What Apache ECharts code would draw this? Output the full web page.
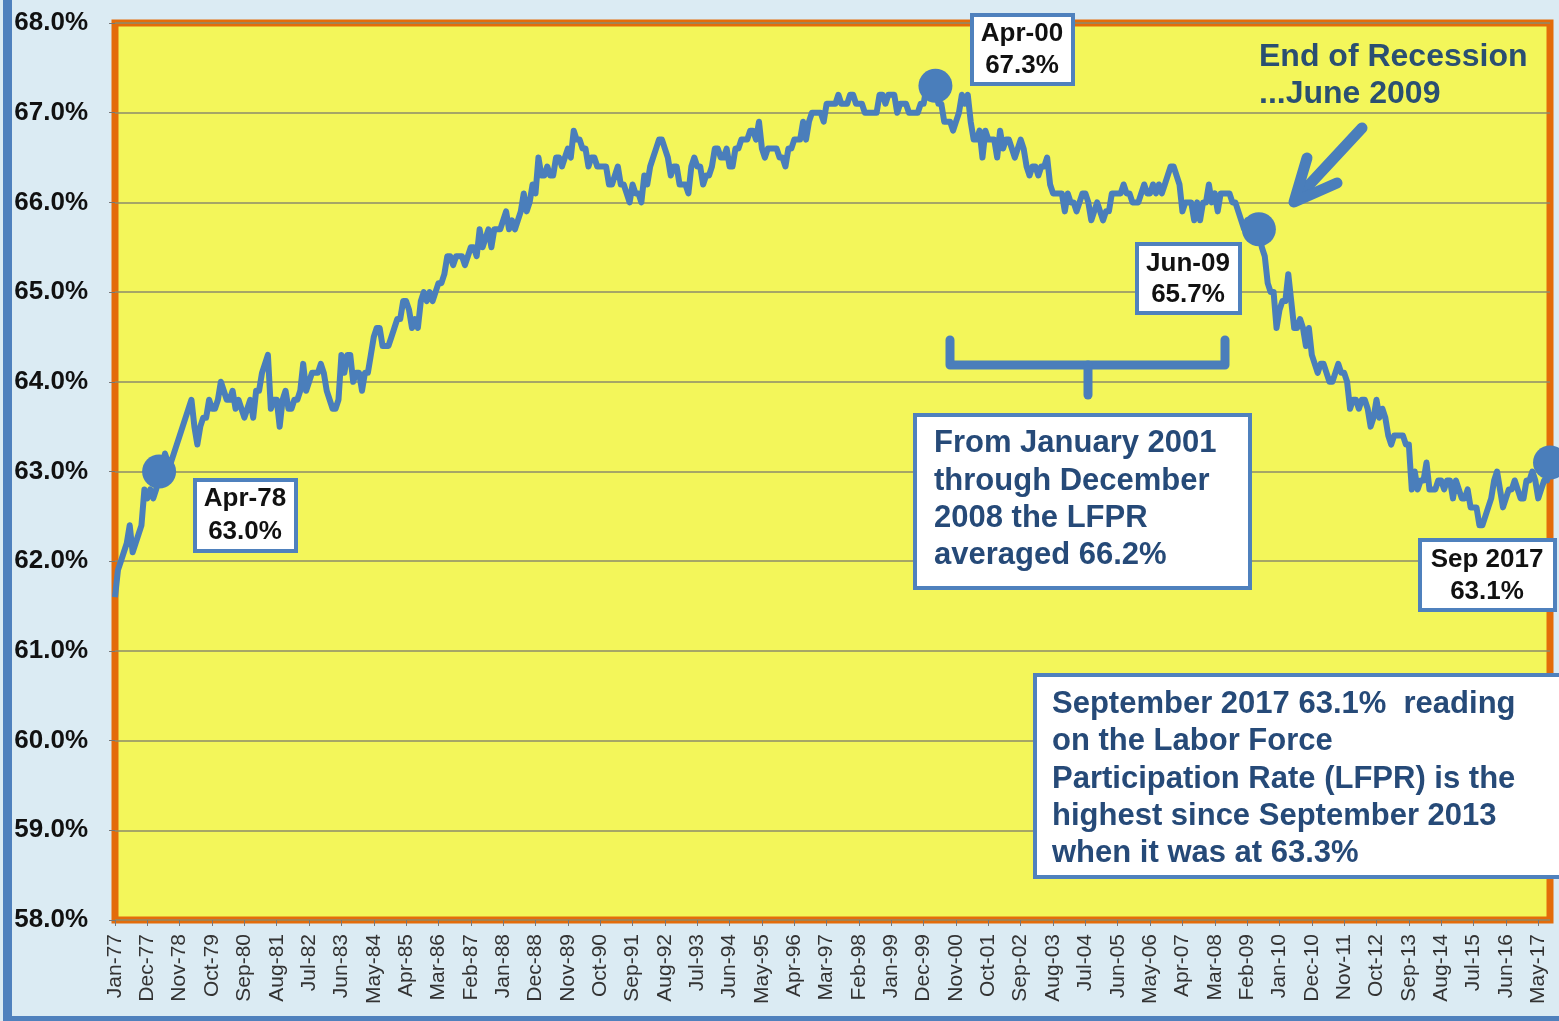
<!DOCTYPE html>
<html>
<head>
<meta charset="utf-8">
<title>Labor Force Participation Rate</title>
<script src="https://cdn.jsdelivr.net/npm/echarts@6/dist/echarts.min.js"></script>
<style>
  html, body { margin: 0; padding: 0; background: #dbebf3; }
  #chart { width: 1559px; height: 1021px; }
</style>
</head>
<body>
<div id="chart"></div>
<script>
// monthly LFPR, one line per year
const rates1977to1986 = [
  61.6, 61.9, 62.0, 62.1, 62.2, 62.4, 62.1, 62.2, 62.3, 62.4, 62.8, 62.7,
  62.8, 62.7, 62.8, 63.0, 63.0, 63.2, 63.1, 63.1, 63.2, 63.3, 63.4, 63.5,
  63.6, 63.7, 63.8, 63.5, 63.3, 63.5, 63.6, 63.6, 63.8, 63.7, 63.7, 63.8,
  64.0, 63.9, 63.8, 63.8, 63.9, 63.7, 63.8, 63.7, 63.6, 63.7, 63.8, 63.6,
  63.9, 63.9, 64.1, 64.2, 64.3, 63.7, 63.8, 63.8, 63.5, 63.8, 63.9, 63.7,
  63.7, 63.8, 63.8, 63.9, 64.2, 63.9, 64.0, 64.1, 64.1, 64.1, 64.2, 64.1,
  63.9, 63.8, 63.7, 63.7, 63.8, 64.3, 64.1, 64.3, 64.3, 64.0, 64.1, 64.1,
  63.9, 64.1, 64.1, 64.3, 64.5, 64.6, 64.6, 64.4, 64.4, 64.4, 64.5, 64.6,
  64.7, 64.7, 64.9, 64.9, 64.8, 64.6, 64.7, 64.6, 64.9, 65.0, 64.9, 65.0,
  64.9, 65.0, 65.1, 65.1, 65.2, 65.4, 65.4, 65.3, 65.4, 65.4, 65.4, 65.3
];
const rates1987to1996 = [
  65.4, 65.5, 65.5, 65.4, 65.7, 65.5, 65.6, 65.7, 65.5, 65.7, 65.7, 65.7,
  65.8, 65.9, 65.7, 65.8, 65.7, 65.8, 65.9, 66.1, 65.9, 66.0, 66.2, 66.1,
  66.5, 66.3, 66.3, 66.4, 66.3, 66.3, 66.5, 66.5, 66.4, 66.5, 66.6, 66.5,
  66.8, 66.7, 66.7, 66.6, 66.6, 66.4, 66.5, 66.5, 66.4, 66.4, 66.4, 66.4,
  66.2, 66.2, 66.3, 66.4, 66.2, 66.2, 66.1, 66.0, 66.2, 66.1, 66.1, 66.0,
  66.3, 66.2, 66.4, 66.5, 66.6, 66.7, 66.7, 66.6, 66.5, 66.3, 66.4, 66.4,
  66.2, 66.2, 66.2, 66.1, 66.4, 66.5, 66.4, 66.4, 66.2, 66.3, 66.3, 66.4,
  66.6, 66.6, 66.5, 66.5, 66.6, 66.4, 66.4, 66.6, 66.6, 66.7, 66.7, 66.7,
  66.8, 66.8, 66.7, 66.9, 66.6, 66.5, 66.6, 66.6, 66.6, 66.6, 66.5, 66.5,
  66.4, 66.6, 66.6, 66.7, 66.7, 66.7, 66.9, 66.7, 66.9, 67.0, 67.0, 67.0
];
const rates1997to2006 = [
  67.0, 66.9, 67.1, 67.1, 67.1, 67.1, 67.2, 67.1, 67.1, 67.1, 67.2, 67.2,
  67.1, 67.1, 67.1, 67.0, 67.0, 67.0, 67.0, 67.0, 67.2, 67.2, 67.1, 67.2,
  67.2, 67.2, 67.0, 67.1, 67.1, 67.1, 67.0, 67.0, 67.0, 67.0, 67.1, 67.1,
  67.3, 67.3, 67.3, 67.3, 67.1, 67.1, 66.9, 66.9, 66.9, 66.8, 66.9, 67.0,
  67.2, 67.1, 67.2, 66.9, 66.7, 66.7, 66.8, 66.5, 66.8, 66.7, 66.7, 66.7,
  66.5, 66.8, 66.6, 66.7, 66.7, 66.6, 66.5, 66.6, 66.7, 66.6, 66.4, 66.3,
  66.4, 66.4, 66.3, 66.4, 66.4, 66.5, 66.2, 66.1, 66.1, 66.1, 66.1, 65.9,
  66.1, 66.0, 66.0, 65.9, 66.0, 66.1, 66.1, 66.0, 65.8, 65.9, 66.0, 65.9,
  65.8, 65.9, 65.9, 66.1, 66.1, 66.1, 66.1, 66.2, 66.1, 66.1, 66.0, 66.0,
  66.0, 66.1, 66.2, 66.1, 66.1, 66.2, 66.1, 66.2, 66.1, 66.2, 66.3, 66.4
];
const rates2007to2017 = [
  66.4, 66.3, 66.2, 65.9, 66.0, 66.0, 66.0, 65.8, 66.0, 65.8, 66.0, 66.0,
  66.2, 66.0, 66.1, 65.9, 66.1, 66.1, 66.1, 66.1, 66.0, 66.0, 65.9, 65.8,
  65.7, 65.8, 65.6, 65.7, 65.7, 65.7, 65.5, 65.4, 65.1, 65.0, 65.0, 64.6,
  64.8, 64.9, 64.9, 65.2, 64.9, 64.6, 64.6, 64.7, 64.6, 64.4, 64.6, 64.3,
  64.2, 64.1, 64.2, 64.2, 64.1, 64.0, 64.0, 64.1, 64.2, 64.1, 64.1, 64.0,
  63.7, 63.8, 63.8, 63.7, 63.8, 63.8, 63.7, 63.5, 63.6, 63.8, 63.6, 63.7,
  63.6, 63.4, 63.3, 63.4, 63.4, 63.4, 63.4, 63.3, 63.3, 62.8, 63.0, 62.8,
  62.9, 62.9, 63.1, 62.8, 62.8, 62.8, 62.9, 62.9, 62.8, 62.9, 62.9, 62.7,
  62.9, 62.8, 62.7, 62.7, 62.8, 62.6, 62.6, 62.6, 62.4, 62.4, 62.5, 62.6,
  62.7, 62.9, 63.0, 62.8, 62.6, 62.7, 62.8, 62.8, 62.9, 62.8, 62.7, 62.7,
  62.9, 62.9, 63.0, 62.9, 62.7, 62.8, 62.9, 62.9, 63.1
];

const monthNames = ["Jan", "Feb", "Mar", "Apr", "May", "Jun", "Jul", "Aug", "Sep", "Oct", "Nov", "Dec"];
const firstYear = 1977;
const highlightMonths = ["Apr-78", "Apr-00", "Jun-09", "Sep-17"];

const rates = [].concat(rates1977to1986, rates1987to1996, rates1997to2006, rates2007to2017);
const months = rates.map((_, i) => {
  const yy = String((firstYear + Math.floor(i / 12)) % 100).padStart(2, "0");
  return `${monthNames[i % 12]}-${yy}`;
});

const lineBlue = "#4a7ebb";
const boxBlue = "#4f81bd";
const textNavy = "#264a78";
const font = '"Liberation Sans", Arial, sans-serif';

function textLine(text, x, y, size, color, align) {
  return {
    type: "text",
    z: 110,
    style: {
      text,
      x,
      y,
      font: `bold ${size}px ${font}`,
      fill: color,
      align: align || "center",
      verticalAlign: "middle",
      textAlign: align || "center",
      textVerticalAlign: "middle"
    }
  };
}

function box(x, y, w, h) {
  return {
    type: "rect",
    z: 105,
    shape: { x, y, width: w, height: h },
    style: { fill: "#ffffff", stroke: boxBlue, lineWidth: 4 }
  };
}

function stroke(points, width) {
  return {
    type: "polyline",
    z: 108,
    shape: { points },
    style: { stroke: lineBlue, lineWidth: width || 9, fill: null, lineJoin: "round", lineCap: "round" }
  };
}

const graphics = [
  // frame bars
  { type: "rect", z: 1, shape: { x: 3, y: 0, width: 9, height: 1021 }, style: { fill: boxBlue } },
  { type: "rect", z: 1, shape: { x: 3, y: 1016, width: 1556, height: 5 }, style: { fill: boxBlue } },

  box(195, 480, 101, 71),
  textLine("Apr-78", 245, 499, 26, "#111"),
  textLine("63.0%", 245, 532, 26, "#111"),

  box(972, 15, 101, 69),
  textLine("Apr-00", 1022, 34, 26, "#111"),
  textLine("67.3%", 1022, 66, 26, "#111"),

  box(1137, 244, 103, 69),
  textLine("Jun-09", 1188, 264, 26, "#111"),
  textLine("65.7%", 1188, 295, 26, "#111"),

  box(1420, 540, 135, 70),
  textLine("Sep 2017", 1487, 560, 26, "#111"),
  textLine("63.1%", 1487, 592, 26, "#111"),

  // bracket over 2001-2008
  stroke([[950, 340], [950, 365], [1225, 365], [1225, 340]]),
  stroke([[1088, 365], [1088, 395]]),

  box(915, 415, 335, 173),
  textLine("From January 2001", 934, 443, 31, textNavy, "left"),
  textLine("through December", 934, 481, 31, textNavy, "left"),
  textLine("2008 the LFPR", 934, 518, 31, textNavy, "left"),
  textLine("averaged 66.2%", 934, 555, 31, textNavy, "left"),

  box(1035, 675, 540, 202),
  textLine("September 2017 63.1%  reading", 1052, 704, 31, textNavy, "left"),
  textLine("on the Labor Force", 1052, 741, 31, textNavy, "left"),
  textLine("Participation Rate (LFPR) is the", 1052, 779, 31, textNavy, "left"),
  textLine("highest since September 2013", 1052, 816, 31, textNavy, "left"),
  textLine("when it was at 63.3%", 1052, 853, 31, textNavy, "left"),

  textLine("End of Recession", 1259, 57, 32, "#2a4f72", "left"),
  textLine("...June 2009", 1259, 94, 32, "#2a4f72", "left"),

  // arrow to June 2009
  stroke([[1362, 128], [1296, 199]], 11),
  stroke([[1307, 158], [1294, 202], [1337, 183]], 11)
];

const chart = echarts.init(document.getElementById("chart"));

chart.setOption({
  animation: false,
  backgroundColor: "#dbebf3",
  grid: {
    left: 115,
    right: 9,
    top: 23,
    bottom: 101,
    show: true,
    backgroundColor: "#f3f65a",
    borderColor: "#e36c0a",
    borderWidth: 7
  },
  xAxis: {
    type: "category",
    data: months,
    boundaryGap: false,
    axisLine: { show: false },
    axisTick: { show: true, interval: 10, length: 6, lineStyle: { color: "#777" } },
    axisLabel: {
      interval: 10,
      rotate: 90,
      margin: 14,
      fontSize: 21,
      color: "#333",
      fontFamily: font
    },
    splitLine: { show: false }
  },
  yAxis: {
    type: "value",
    min: 58,
    max: 68,
    interval: 1,
    axisLine: { show: false },
    axisTick: { show: true, length: 6, lineStyle: { color: "#777" } },
    axisLabel: {
      margin: 27,
      fontSize: 26,
      fontWeight: "bold",
      color: "#111",
      fontFamily: font,
      formatter: (v) => `${v.toFixed(1)}%`
    },
    splitLine: { show: true, lineStyle: { color: "#8d8b6b", width: 1.5 } }
  },
  series: [
    {
      type: "line",
      data: rates,
      showSymbol: false,
      symbol: "none",
      lineStyle: { color: lineBlue, width: 6, join: "round" },
      z: 3,
      markPoint: {
        symbol: "circle",
        symbolSize: 34,
        itemStyle: { color: lineBlue },
        label: { show: false },
        data: highlightMonths.map((m) => {
          const i = months.indexOf(m);
          return { coord: [i, rates[i]] };
        })
      }
    }
  ],
  graphic: graphics
});
</script>
</body>
</html>
